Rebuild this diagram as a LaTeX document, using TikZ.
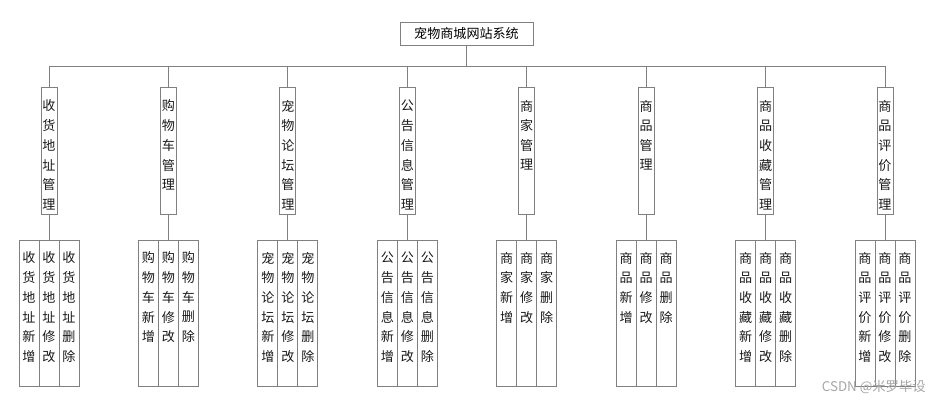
\documentclass[tikz,border=0pt]{standalone}
\usepackage{fontspec}
\setmainfont{Noto Sans CJK SC}
\begin{document}
\begin{tikzpicture}[x=0.75pt,y=-0.75pt,
  box/.style={draw=black!50,line width=0.6pt,inner sep=0pt},
  ch/.style={inner sep=0pt,font=\fontsize{9.8pt}{10pt}\selectfont,text=black!90},
  ln/.style={draw=black!50,line width=0.6pt}]
\useasboundingbox[fill=white] (0,0) rectangle (930,405);
\node[box,minimum width=99.75pt,minimum height=17.25pt,font=\fontsize{9.8pt}{10pt}\selectfont] (root) at (466.5,33.5) {宠物商城网站系统};
\coordinate (hub) at (466.5,66);
\draw[ln] (root.south) -- (hub);
\foreach \p [count=\i] in {{收,货,地,址},{购,物,车},{宠,物,论,坛},{公,告,信,息},{商,家},{商,品},{商,品,收,藏},{商,品,评,价}}{
  \pgfmathsetmacro{\c}{49+(\i-1)*119.43}
  \node[box,minimum width=12pt,minimum height=95.25pt,anchor=north] (m\i) at (\c,87) {};
  \coordinate (t\i) at (\c,66);
  \draw[ln] (t\i) -- (m\i.north);
  \foreach \q [count=\k] in \p {
    \pgfmathsetmacro{\yy}{106+(\k-1)*19.7}
    \node[ch] (mc\i-\k) at (\c,\yy) {\q};
    \xdef\kk{\k}
  }
  \node[ch] (mg\i) at ({\c},{106+\kk*19.7}) {管};
  \node[ch] (mr\i) at ({\c},{106+(\kk+1)*19.7}) {理};
  \foreach \ua/\ub [count=\j] in {新/增,修/改,删/除}{
    \pgfmathsetmacro{\lx}{\c+(\j-2)*20}
    \node[box,minimum width=15pt,minimum height=109.5pt,anchor=north] (l\i-\j) at (\lx,240) {};
    \foreach \q [count=\k] in \p {
      \pgfmathsetmacro{\yy}{258+(\k-1)*19.7}
      \node[ch] (lc\i-\j-\k) at (\lx,\yy) {\q};
    }
    \node[ch] (la\i-\j) at ({\lx},{258+\kk*19.7}) {\ua};
    \node[ch] (lb\i-\j) at ({\lx},{258+(\kk+1)*19.7}) {\ub};
  }
  \draw[ln] (m\i.south) -- (l\i-2.north);
}
\draw[ln] (t1) -- (t8);
\node[anchor=east,inner sep=0pt,font=\fontsize{10pt}{10pt}\selectfont,text=black!35] (wm) at (926,387) {CSDN @米罗毕设};
\end{tikzpicture}
\end{document}
